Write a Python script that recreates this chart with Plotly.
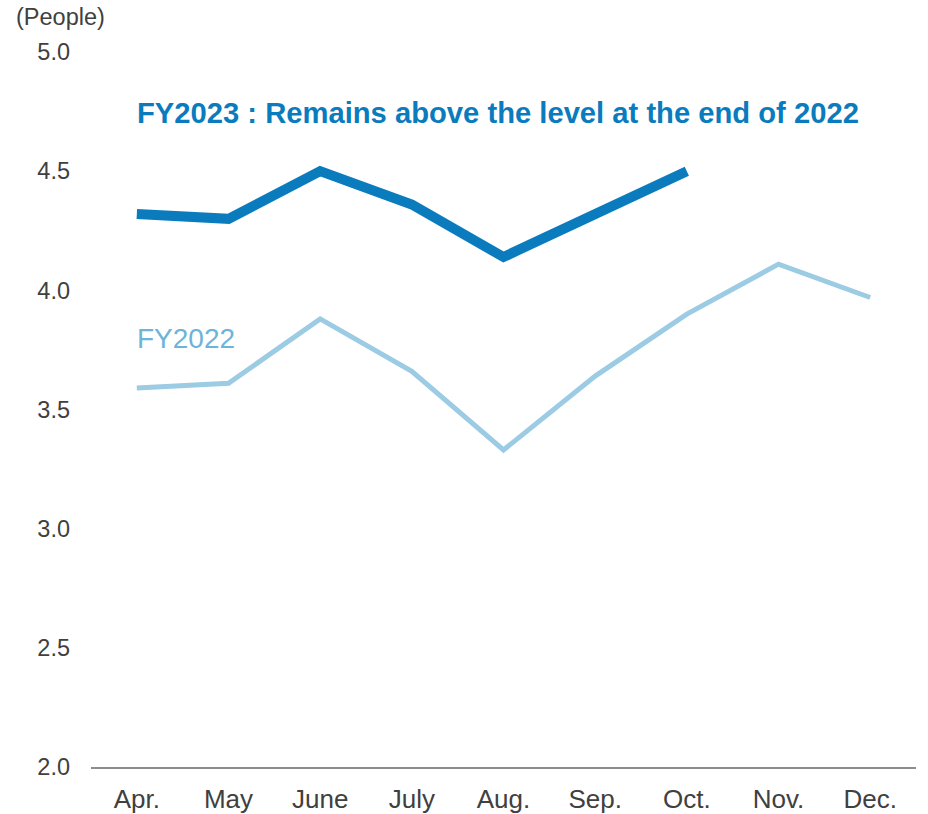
import plotly.graph_objects as go

months = ["Apr.", "May", "June", "July", "Aug.", "Sep.", "Oct.", "Nov.", "Dec."]
fy2022 = [3.59, 3.61, 3.88, 3.66, 3.33, 3.64, 3.90, 4.11, 3.97]
fy2023 = [4.32, 4.30, 4.50, 4.36, 4.14, 4.32, 4.50]
y_ticks = [2.0, 2.5, 3.0, 3.5, 4.0, 4.5, 5.0]

FONT = "Liberation Sans, Arial, sans-serif"
DARK = "#0A7CBE"
LIGHT = "#9CCBE4"

fig = go.Figure()
fig.add_trace(go.Scatter(
    x=months, y=fy2022, mode="lines",
    line=dict(color=LIGHT, width=5), name="FY2022", hoverinfo="skip"))
fig.add_trace(go.Scatter(
    x=months[:len(fy2023)], y=fy2023, mode="lines",
    line=dict(color=DARK, width=10), name="FY2023", hoverinfo="skip"))

fig.add_annotation(
    x=0, y=3.80, xref="x", yref="y", xanchor="left", yanchor="middle",
    xshift=-2,
    text="FY2022", showarrow=False,
    font=dict(family=FONT, size=28, color="#6CB4DA"))
fig.add_annotation(
    x=0, y=4.745, xref="x", yref="y", xanchor="left", yanchor="middle",
    xshift=-2,
    text="<b>FY2023 : Remains above the level at the end of 2022</b>", showarrow=False,
    font=dict(family=FONT, size=29.2, color=DARK))
fig.add_annotation(
    x=0.0, y=1.0, xref="paper", yref="paper", xanchor="right", yanchor="bottom",
    xshift=16, yshift=20,
    text="(People)", showarrow=False,
    font=dict(family=FONT, size=23.5, color="#404040"))

fig.update_layout(
    width=928, height=814,
    margin=dict(l=91, r=12, t=52, b=47),
    paper_bgcolor="white", plot_bgcolor="white",
    showlegend=False,
    font=dict(family=FONT, color="#404040"),
)
fig.update_xaxes(
    type="category", range=[-0.5, 8.5], automargin=False,
    showgrid=False, zeroline=False,
    showline=True, linecolor="#8C8C8C", linewidth=1.5,
    ticks="", ticklabelstandoff=8,
    tickfont=dict(size=26, color="#404040"),
)
fig.update_yaxes(
    range=[2.0, 5.0], tickvals=y_ticks, automargin=False,
    ticktext=[f"{v:.1f}" for v in y_ticks],
    showgrid=False, zeroline=False, showline=False,
    ticks="", ticklabelstandoff=20,
    tickfont=dict(size=23.5, color="#404040"),
)

fig.write_html("out.html")
